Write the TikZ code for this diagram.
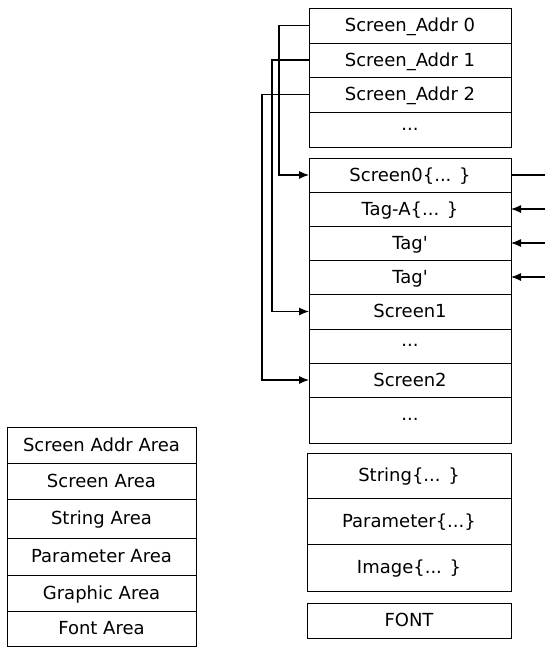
\documentclass[tikz,border=0pt]{standalone}
\usepackage{fontspec}
\setmainfont{DejaVu Sans}
\usetikzlibrary{arrows.meta}
\begin{document}
\begin{tikzpicture}[x=1pt,y=-1pt,
  cell/.style={draw, line width=1pt, inner sep=0pt, outer sep=0pt, text depth=1pt, font=\fontsize{18}{20}\selectfont},
  rcell/.style={cell, minimum width=202pt},
  gcell/.style={cell, minimum width=204pt},
  lcell/.style={cell, minimum width=189pt},
  conn/.style={line width=1.1pt},
  arr/.style={conn, -{Latex[length=10pt,width=8pt]}}]
\useasboundingbox (0,0) rectangle (545,648);
\coordinate (edge) at (545,0);
% top group
\node[rcell, minimum height=35pt] (a0) at (410,25.5) {Screen\_Addr 0};
\node[rcell, minimum height=34pt] (a1) at (410,60) {Screen\_Addr 1};
\node[rcell, minimum height=35pt] (a2) at (410,94.5) {Screen\_Addr 2};
\node[rcell, minimum height=35pt] (a3) at (410,129.5) {...};
% screen group
\node[rcell, minimum height=34pt] (s0) at (410,175) {Screen0\{... \}};
\node[rcell, minimum height=34pt] (ta) at (410,209) {Tag-A\{... \}};
\node[rcell, minimum height=34pt] (t1) at (410,243) {Tag\textquotesingle};
\node[rcell, minimum height=34pt] (t2) at (410,277) {Tag\textquotesingle};
\node[rcell, minimum height=35pt] (s1) at (410,311.5) {Screen1};
\node[rcell, minimum height=34pt] (d1) at (410,346) {...};
\node[rcell, minimum height=34pt] (s2) at (410,380) {Screen2};
\node[rcell, minimum height=46pt] (d2) at (410,420) {...};
% data group
\node[gcell, minimum height=45pt] (str) at (409,475.5) {String\{... \}};
\node[gcell, minimum height=46pt] (par) at (409,521) {Parameter\{...\}};
\node[gcell, minimum height=47pt] (img) at (409,567.5) {Image\{... \}};
\node[gcell, minimum height=35pt] (fnt) at (409,620.5) {FONT};
% left table
\node[lcell, minimum height=36pt] (l1) at (101.5,445) {Screen Addr Area};
\node[lcell, minimum height=36pt] (l2) at (101.5,481) {Screen Area};
\node[lcell, minimum height=39pt] (l3) at (101.5,518.5) {String Area};
\node[lcell, minimum height=37pt] (l4) at (101.5,556.5) {Parameter Area};
\node[lcell, minimum height=36pt] (l5) at (101.5,593) {Graphic Area};
\node[lcell, minimum height=35pt] (l6) at (101.5,628.5) {Font Area};
% connectors
\draw[arr] (a0.west) -- ([xshift=-30pt]a0.west) |- (s0.west);
\draw[arr] (a1.west) -- ([xshift=-37pt]a1.west) |- (s1.west);
\draw[arr] (a2.west) -- ([xshift=-47pt]a2.west) |- (s2.west);
\draw[conn] (s0.east) -- (s0.east -| edge);
\draw[arr] (ta.east -| edge) -- (ta.east);
\draw[arr] (t1.east -| edge) -- (t1.east);
\draw[arr] (t2.east -| edge) -- (t2.east);
\end{tikzpicture}
\end{document}
